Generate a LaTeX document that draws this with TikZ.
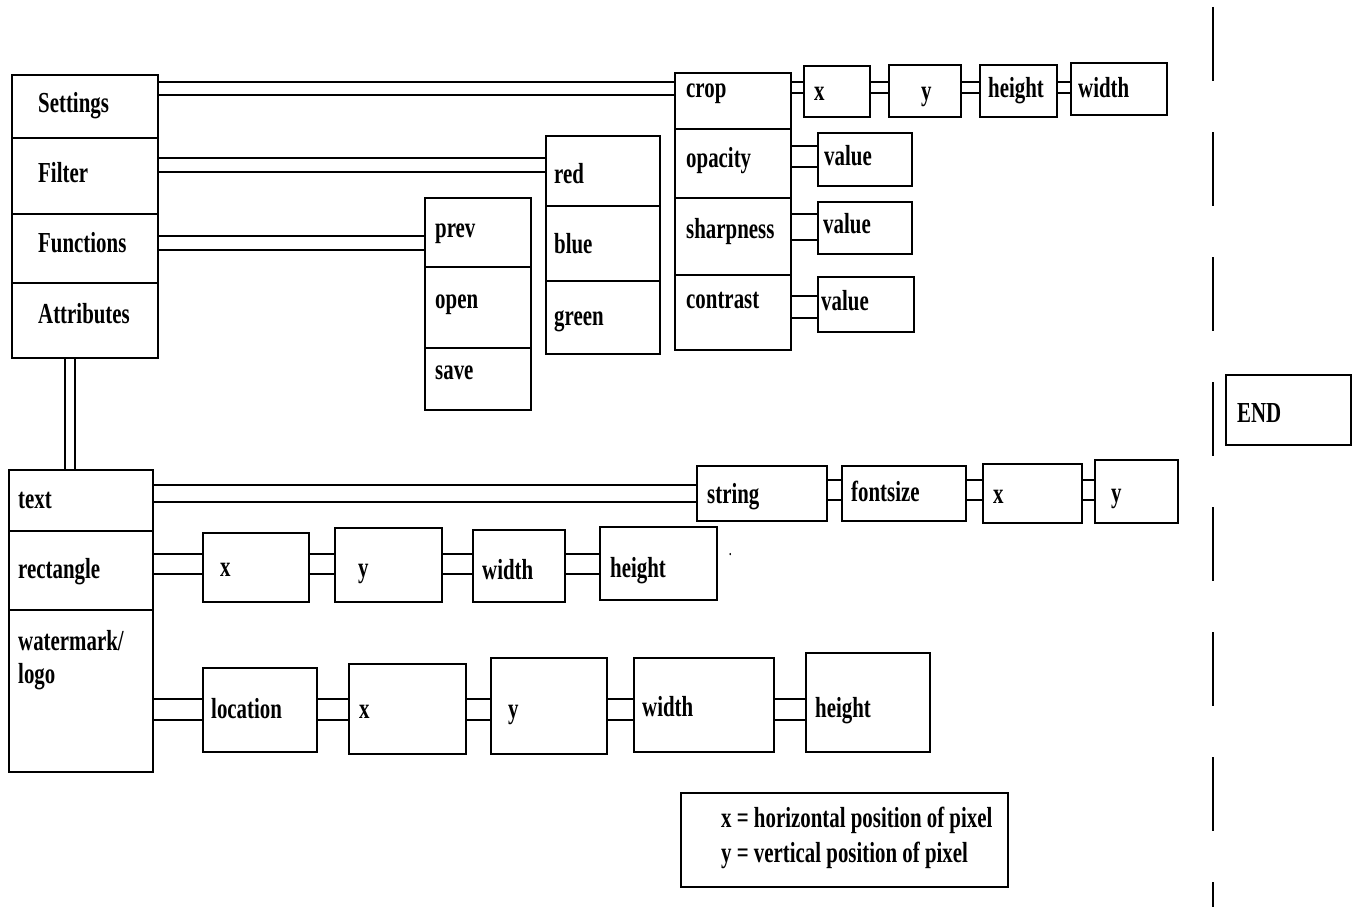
\documentclass[tikz,border=0pt]{standalone}
\usepackage{fontspec}
\newfontfamily\diafont[FakeStretch=0.72]{Liberation Serif}
\usetikzlibrary{fit,backgrounds}

\begin{document}
\begin{tikzpicture}[x=1pt,y=-1pt,
    box/.style={draw,line width=1.6pt,inner sep=0pt},
    lbl/.style={anchor=base west,inner sep=0pt,font=\diafont\bfseries\fontsize{29}{33}\selectfont},
    link/.style={draw,double,line width=1.6pt,double distance=#1}]

  \useasboundingbox (0,0) rectangle (1358,907);

  % main menu
  \node[box,fit={(12,75) (158,138)}] (settings) {};
  \node[box,fit={(12,138) (158,214)}] (filter) {};
  \node[box,fit={(12,214) (158,283)}] (functions) {};
  \node[box,fit={(12,283) (158,358)}] (attributes) {};
  \node[lbl] (settings-t) at (38,112) {Settings};
  \node[lbl] (filter-t) at (38,182) {Filter};
  \node[lbl] (functions-t) at (38,252) {Functions};
  \node[lbl] (attributes-t) at (38,323) {Attributes};

  % functions
  \node[box,fit={(425,198) (531,267)}] (prev) {};
  \node[box,fit={(425,267) (531,348)}] (open) {};
  \node[box,fit={(425,348) (531,410)}] (save) {};
  \node[lbl] (prev-t) at (435,237) {prev};
  \node[lbl] (open-t) at (435,308) {open};
  \node[lbl] (save-t) at (435,379) {save};

  % filter
  \node[box,fit={(546,136) (660,206)}] (red) {};
  \node[box,fit={(546,206) (660,281)}] (blue) {};
  \node[box,fit={(546,281) (660,354)}] (green) {};
  \node[lbl] (red-t) at (554,183) {red};
  \node[lbl] (blue-t) at (554,253) {blue};
  \node[lbl] (green-t) at (554,325) {green};

  % settings
  \node[box,fit={(675,73) (791,129)}] (crop) {};
  \node[box,fit={(675,129) (791,198)}] (opacity) {};
  \node[box,fit={(675,198) (791,275)}] (sharpness) {};
  \node[box,fit={(675,275) (791,350)}] (contrast) {};
  \node[lbl] (crop-t) at (686,97) {crop};
  \node[lbl] (opacity-t) at (686,167) {opacity};
  \node[lbl] (sharpness-t) at (686,238) {sharpness};
  \node[lbl] (contrast-t) at (686,308) {contrast};

  \node[box,fit={(804,66) (870,117)}] (crop-x) {};
  \node[box,fit={(889,65) (961,117)}] (crop-y) {};
  \node[box,fit={(980,65) (1057,117)}] (crop-h) {};
  \node[box,fit={(1071,63) (1167,115)}] (crop-w) {};
  \node[lbl] (crop-x-t) at (814,100) {x};
  \node[lbl] (crop-y-t) at (921,100) {y};
  \node[lbl] (crop-h-t) at (988,98) {height};
  \node[lbl] (crop-w-t) at (1078,98) {width};

  \node[box,fit={(818,133) (912,186)}] (opacity-v) {};
  \node[box,fit={(818,202) (912,254)}] (sharpness-v) {};
  \node[box,fit={(818,277) (914,332)}] (contrast-v) {};
  \node[lbl] (opacity-v-t) at (824,165) {value};
  \node[lbl] (sharpness-v-t) at (823,233) {value};
  \node[lbl] (contrast-v-t) at (821,310) {value};

  % attributes
  \node[box,fit={(9,470) (153,531)}] (text) {};
  \node[box,fit={(9,531) (153,610)}] (rectangle) {};
  \node[box,fit={(9,610) (153,772)}] (watermark) {};
  \node[lbl] (text-t) at (18,508) {text};
  \node[lbl] (rectangle-t) at (18,578) {rectangle};
  \node[lbl] (watermark-t) at (18,650) {watermark/};
  \node[lbl] (logo-t) at (18,683) {logo};

  \node[box,fit={(697,466) (827,521)}] (string) {};
  \node[box,fit={(842,466) (966,521)}] (fontsize) {};
  \node[box,fit={(983,464) (1082,523)}] (text-x) {};
  \node[box,fit={(1095,460) (1178,523)}] (text-y) {};
  \node[lbl] (string-t) at (707,503) {string};
  \node[lbl] (fontsize-t) at (851,501) {fontsize};
  \node[lbl] (text-x-t) at (993,503) {x};
  \node[lbl] (text-y-t) at (1111,502) {y};

  \node[box,fit={(203,533) (309,602)}] (rect-x) {};
  \node[box,fit={(335,528) (442,602)}] (rect-y) {};
  \node[box,fit={(473,530) (565,602)}] (rect-w) {};
  \node[box,fit={(600,527) (717,600)}] (rect-h) {};
  \node[lbl] (rect-x-t) at (220,576) {x};
  \node[lbl] (rect-y-t) at (358,577) {y};
  \node[lbl] (rect-w-t) at (482,579) {width};
  \node[lbl] (rect-h-t) at (610,577) {height};
  \node[lbl,font=\diafont\bfseries\fontsize{14}{14}\selectfont] (dot) at (729,555) {.};

  \node[box,fit={(203,668) (317,752)}] (location) {};
  \node[box,fit={(349,664) (466,754)}] (logo-x) {};
  \node[box,fit={(491,658) (607,754)}] (logo-y) {};
  \node[box,fit={(634,658) (774,752)}] (logo-w) {};
  \node[box,fit={(806,653) (930,752)}] (logo-h) {};
  \node[lbl] (location-t) at (211,718) {location};
  \node[lbl] (logo-x-t) at (359,718) {x};
  \node[lbl] (logo-y-t) at (508,718) {y};
  \node[lbl] (logo-w-t) at (642,716) {width};
  \node[lbl] (logo-h-t) at (815,717) {height};

  % legend and end
  \node[box,fit={(681,793) (1008,887)}] (legend) {};
  \node[lbl] (legend-x) at (721,827) {x = horizontal position of pixel};
  \node[lbl] (legend-y) at (721,862) {y = vertical position of pixel};
  \node[box,fit={(1226,375) (1351,445)}] (end) {};
  \node[lbl] (end-t) at (1237,422) {END};

  \coordinate (sep-top) at (1213,7);
  \coordinate (sep-bot) at (1213,907);
  \draw[line width=1.6pt,dash pattern=on 74pt off 51pt] (sep-top) -- (sep-bot);

  % double connectors
  \begin{scope}[on background layer]
    \draw[link=11.4pt] (settings.east |- 0,88.5) -- (crop.west |- 0,88.5);
    \draw[link=12.4pt] (filter.east |- 0,165) -- (red.west |- 0,165);
    \draw[link=12.4pt] (functions.east |- 0,243) -- (prev.west |- 0,243);
    \draw[link=9.4pt] (crop.east |- 0,87.5) -- (crop-x.west |- 0,87.5);
    \draw[link=9.4pt] (crop-x.east |- 0,87.5) -- (crop-y.west |- 0,87.5);
    \draw[link=9.4pt] (crop-y.east |- 0,87.5) -- (crop-h.west |- 0,87.5);
    \draw[link=9.4pt] (crop-h.east |- 0,87.5) -- (crop-w.west |- 0,87.5);
    \draw[link=19.4pt] (opacity.east |- 0,156.5) -- (opacity-v.west |- 0,156.5);
    \draw[link=24.4pt] (sharpness.east |- 0,227) -- (sharpness-v.west |- 0,227);
    \draw[link=20.4pt] (contrast.east |- 0,307) -- (contrast-v.west |- 0,307);
    \draw[link=8.4pt] (attributes.south -| 70,0) -- (text.north -| 70,0);
    \draw[link=15.4pt] (text.east |- 0,493.5) -- (string.west |- 0,493.5);
    \draw[link=18.4pt] (string.east |- 0,490) -- (fontsize.west |- 0,490);
    \draw[link=18.4pt] (fontsize.east |- 0,490) -- (text-x.west |- 0,490);
    \draw[link=18.4pt] (text-x.east |- 0,490) -- (text-y.west |- 0,490);
    \draw[link=18.4pt] (rectangle.east |- 0,564) -- (rect-x.west |- 0,564);
    \draw[link=18.4pt] (rect-x.east |- 0,564) -- (rect-y.west |- 0,564);
    \draw[link=18.4pt] (rect-y.east |- 0,564) -- (rect-w.west |- 0,564);
    \draw[link=18.4pt] (rect-w.east |- 0,564) -- (rect-h.west |- 0,564);
    \draw[link=19.4pt] (watermark.east |- 0,709.5) -- (location.west |- 0,709.5);
    \draw[link=19.4pt] (location.east |- 0,709.5) -- (logo-x.west |- 0,709.5);
    \draw[link=19.4pt] (logo-x.east |- 0,709.5) -- (logo-y.west |- 0,709.5);
    \draw[link=19.4pt] (logo-y.east |- 0,709.5) -- (logo-w.west |- 0,709.5);
    \draw[link=19.4pt] (logo-w.east |- 0,709.5) -- (logo-h.west |- 0,709.5);
  \end{scope}
\end{tikzpicture}
\end{document}
